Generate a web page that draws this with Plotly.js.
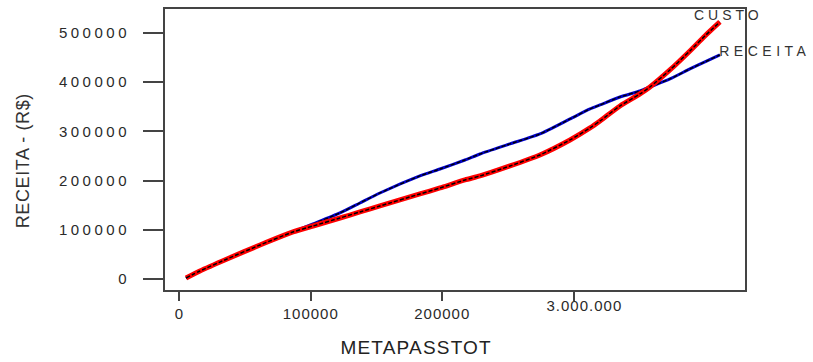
<!DOCTYPE html>
<html>
<head>
<meta charset="utf-8">
<script src="https://cdn.plot.ly/plotly-3.0.1.min.js"></script>
<style>
  html, body { margin: 0; padding: 0; background: #fff; }
  #chart { width: 813px; height: 362px; }
  .ytick text { letter-spacing: 3.5px; }
  .xtick text { letter-spacing: 1px; }
  .annotation[data-index="0"] text { letter-spacing: 0.6px; }
  .annotation[data-index="1"] text { letter-spacing: 1.2px; }
  .annotation[data-index="2"] text { letter-spacing: 4px; }
  .annotation[data-index="3"] text { letter-spacing: 4.5px; }
  .annotation[data-index="4"] text { letter-spacing: 1px; }
</style>
</head>
<body>
<div id="chart"></div>
<script>
// METAPASSTOT values
const metaX = [5100, 15700, 36300, 61400, 86500, 101700, 122200, 137400, 152600, 183000,
  198300, 217300, 228700, 251500, 274300, 297200, 312400, 320000, 335200, 350400,
  358000, 373200, 388400, 399800, 411200];
// CUSTO series
const custo = [2000, 16300, 40700, 69100, 95600, 107700, 124000, 136200, 148400, 172800,
  185000, 201300, 209400, 229700, 252100, 282600, 307000, 321200, 351700, 376100,
  390300, 424900, 463500, 494000, 522500];
// RECEITA series
const receita = [2000, 16300, 40700, 69100, 95600, 111800, 134200, 154500, 174800, 209400,
  223600, 241900, 254100, 274500, 294800, 325300, 345600, 353700, 370000, 382200,
  390300, 406600, 426900, 441200, 455400];

const xTickVals = [0, 100000, 200000, 300000];
const xTickText = ['0', '100000', '200000', ''];
const xOddLabel = '3.000.000';
const yTickVals = [0, 100000, 200000, 300000, 400000, 500000];
const yTickText = ['0', '100000', '200000', '300000', '400000', '500000'];
const seriesNames = ['CUSTO', 'RECEITA'];

const FONT = 'Liberation Sans, Arial, sans-serif';
const dash = '4px,2px';

const traces = [
  {x: metaX, y: receita, mode: 'lines', line: {color: '#0000cc', width: 3, shape: 'spline', smoothing: 0.6}, hoverinfo: 'skip'},
  {x: metaX, y: receita, mode: 'lines', line: {color: '#000', width: 1.4, dash: dash, shape: 'spline', smoothing: 0.6}, hoverinfo: 'skip'},
  {x: metaX, y: custo, mode: 'lines', line: {color: '#ff0000', width: 5, shape: 'spline', smoothing: 0.6}, hoverinfo: 'skip'},
  {x: metaX, y: custo, mode: 'lines', line: {color: '#000', width: 1.5, dash: dash, shape: 'spline', smoothing: 0.6}, hoverinfo: 'skip'}
];

const layout = {
  width: 813, height: 362,
  margin: {l: 165, r: 68, t: 9, b: 72, pad: 0},
  paper_bgcolor: '#fff', plot_bgcolor: '#fff',
  showlegend: false,
  font: {family: FONT, color: '#333'},
  xaxis: {
    range: [-10880, 430300],
    tickmode: 'array', tickvals: xTickVals, ticktext: xTickText,
    ticks: 'outside', ticklen: 9, tickwidth: 2, tickcolor: '#444',
    showline: true, mirror: true, linecolor: '#444', linewidth: 2,
    showgrid: false, zeroline: false,
    tickfont: {family: FONT, size: 15, color: '#2a2a2a'},
    ticklabelstandoff: 0
  },
  yaxis: {
    range: [-22400, 548800],
    tickmode: 'array', tickvals: yTickVals, ticktext: yTickText,
    ticks: 'outside', ticklen: 20, tickwidth: 2, tickcolor: '#444',
    showline: true, mirror: true, linecolor: '#444', linewidth: 2,
    showgrid: false, zeroline: false,
    tickfont: {family: FONT, size: 15, color: '#2a2a2a'},
    ticklabelstandoff: 10
  },
  annotations: [
    {text: 'RECEITA - (R$)', xref: 'paper', yref: 'paper', x: -0.2448, y: 0.459,
     textangle: -90, showarrow: false, xanchor: 'center', yanchor: 'middle',
     font: {family: FONT, size: 18, color: '#333'}},
    {text: 'METAPASSTOT', xref: 'paper', yref: 'paper', x: 0.433, y: -0.206,
     showarrow: false, xanchor: 'center', yanchor: 'middle',
     font: {family: FONT, size: 19, color: '#222'}},
    {text: seriesNames[0], xref: 'paper', yref: 'paper', x: 0.9716, y: 0.980,
     showarrow: false, xanchor: 'center', yanchor: 'middle',
     font: {family: FONT, size: 14, color: '#333'}},
    {text: seriesNames[1], xref: 'paper', yref: 'paper', x: 1.035, y: 0.8505,
     showarrow: false, xanchor: 'center', yanchor: 'middle',
     font: {family: FONT, size: 14, color: '#333'}},
    {text: xOddLabel, xref: 'x', yref: 'paper', x: xTickVals[3], y: -0.0534, xshift: 11,
     showarrow: false, xanchor: 'center', yanchor: 'middle',
     font: {family: FONT, size: 15, color: '#2a2a2a'}}
  ]
};

Plotly.newPlot('chart', traces, layout, {displayModeBar: false, staticPlot: true});
</script>
</body>
</html>
